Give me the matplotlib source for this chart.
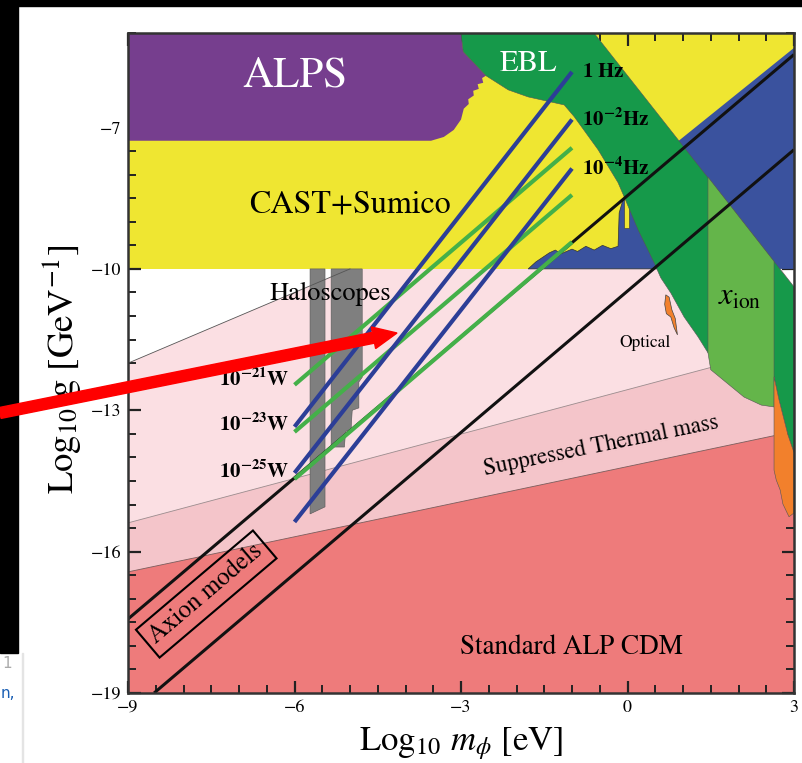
import matplotlib
matplotlib.use("Agg")
import matplotlib.pyplot as plt
from matplotlib.patches import Polygon, Rectangle, FancyArrow
from matplotlib.ticker import FixedLocator, MultipleLocator

plt.rcParams['font.family'] = ['STIXGeneral', 'DejaVu Sans']
plt.rcParams['mathtext.fontset'] = 'stix'

# ---------------- data (log10 m [eV], log10 g [GeV^-1]) ----------------
x_lim = (-9, 3)
y_lim = (-19, -5)
x_major = [-9, -6, -3, 0, 3]
y_major = [-19, -16, -13, -10, -7]

cast_x = [-9, 3, 3, -9]
cast_y = [-10, -10, -5, -5]

alps_x = [-9, -3.00, -2.96, -2.55, -2.62, -2.60, -2.70, -2.68, -2.78, -2.77, -2.87, -2.86, -2.95, -3.00,
          -3.13, -3.31, -3.54, -9]
alps_y = [-5, -5.00, -5.39, -5.90, -5.95, -6.05, -6.08, -6.18, -6.22, -6.32, -6.40, -6.50, -6.60, -6.83,
          -7.05, -7.20, -7.28, -7.28]

blueA_x = [-1.79, -1.65, -1.41, -1.30, -1.20, -1.00, -0.90, -0.75, -0.60, -0.45, -0.30, -0.17, -0.15, -0.08, 0.30, 0.60]
blueA_y = [-10.0, -9.85, -9.66, -9.60, -9.68, -9.58, -9.63, -9.52, -9.60, -9.50, -9.57, -9.52, -8.81, -8.53, -8.50, -10.0]

blueB_x = [0.85, 3.0, 3.0, 2.6]
blueB_y = [-7.35, -5.31, -10.0, -10.0]

spike_x = [-0.07, 0.03, 0.03, -0.07]
spike_y = [-8.45, -8.45, -9.13, -9.13]

ebl_x = [-3.00, -2.96, -2.55, -2.15, -1.79, -1.14, -0.96, -0.53, -0.17, -0.06, 0.19, 0.48, 0.60, 0.78,
         1.02, 1.27, 1.45, 2.64, 2.73, 2.89, 3.0, 3.0, -0.60]
ebl_y = [-5.0, -5.39, -5.90, -6.20, -6.35, -6.52, -6.77, -7.47, -8.17, -8.47, -9.17, -9.87, -10.19, -10.51,
         -11.02, -11.44, -11.78, -12.29, -12.78, -13.52, -13.90, -10.38, -5.0]

xion_x = [1.45, 2.64, 2.64, 2.41, 2.10, 1.50, 1.45]
xion_y = [-8.05, -9.84, -12.93, -12.89, -12.72, -12.14, -11.78]

orange_x = [2.64, 2.73, 2.89, 3.0, 3.0, 2.91, 2.80, 2.75, 2.68, 2.64]
orange_y = [-12.29, -12.78, -13.52, -13.90, -15.18, -15.26, -14.99, -14.69, -14.48, -14.27]

optical_x = [0.69, 0.75, 0.80, 0.86, 0.90, 0.84, 0.78, 0.70, 0.67]
optical_y = [-10.55, -10.60, -10.87, -11.05, -11.40, -11.25, -11.02, -10.95, -10.75]

halo_top_x = [-9, -5, 2.77, 3.0]
halo_top_y = [-12, -10, -10, -10.38]
thermal_x = [-9, 3]
thermal_y = [-15.39, -11.62]
cdm_x = [-9, 3]
cdm_y = [-16.43, -13.45]

bar1_x = [-5.72, -5.45, -5.45, -5.72]
bar1_y = [-10, -10, -15.05, -15.20]
bar2_x = [-5.34, -4.78, -4.78, -4.84, -4.84, -4.96, -4.98, -5.08, -5.10, -5.34]
bar2_y = [-10, -10, -12.30, -12.40, -12.95, -13.00, -13.40, -13.45, -13.78, -13.78]

axion_up_x = [-9, 3]
axion_up_y = [-17.43, -5.45]
axion_lo_x = [-8.53, 3]
axion_lo_y = [-19, -7.47]

sens_x = [-6, -1]
w_labels = [r'$\mathbf{10^{-21}W}$', r'$\mathbf{10^{-23}W}$', r'$\mathbf{10^{-25}W}$']
w_start = [-12.46, -13.46, -14.46]
w_end = [-7.43, -8.43, -9.43]
w_label_y = [-12.35, -13.3, -14.3]
hz_labels = [r'$\mathbf{1\ Hz}$', r'$\mathbf{10^{-2}Hz}$', r'$\mathbf{10^{-4}Hz}$']
hz_start = [-13.35, -14.33, -15.37]
hz_end = [-5.82, -6.83, -7.87]

# ---------------- colours ----------------
c_yellow = '#efe631'
c_purple = '#763e8e'
c_blue = '#3a529e'
c_ebl = '#16994a'
c_xion = '#64b54a'
c_orange = '#f2802c'
c_pink = '#fbdfe3'
c_thermal = '#f4c5ca'
c_cdm = '#ee7b7b'
c_gray = '#7f7f7f'
c_lblue = '#2c3e97'
c_lgreen = '#44b049'

fig = plt.figure(figsize=(8.02, 7.63), dpi=100)
ax = fig.add_axes([128 / 802, 70 / 763, 666 / 802, 659.7 / 763])
ax.set_xlim(*x_lim)
ax.set_ylim(*y_lim)


def poly(xs, ys, fc, z, ec='none', lw=0.0):
    ax.add_patch(Polygon(list(zip(xs, ys)), closed=True, facecolor=fc,
                         edgecolor=ec, lw=lw, zorder=z))


# light pink (haloscope area), thermal and CDM bands
pink_x = halo_top_x + [thermal_x[1], thermal_x[0]]
pink_y = halo_top_y + [thermal_y[1], thermal_y[0]]
poly(pink_x, pink_y, c_pink, 1)
poly(thermal_x + cdm_x[::-1], thermal_y + cdm_y[::-1], c_thermal, 1.1)
poly(cdm_x + [3, -9], cdm_y + [-19, -19], c_cdm, 1.2)
ax.plot(thermal_x, thermal_y, color='#9a8a8c', lw=0.6, zorder=1.3)
ax.plot(cdm_x, cdm_y, color='#7a5a5a', lw=0.6, zorder=1.3)

poly(cast_x, cast_y, c_yellow, 1)
poly(alps_x, alps_y, c_purple, 2)
poly(blueA_x, blueA_y, c_blue, 2, ec='#333333', lw=0.5)
poly(blueB_x, blueB_y, c_blue, 2)
poly(spike_x, spike_y, c_yellow, 2.1, ec='#444444', lw=0.5)
poly(ebl_x, ebl_y, c_ebl, 3, ec='#555555', lw=0.4)
poly(xion_x, xion_y, c_xion, 3.2, ec='#555555', lw=0.4)
poly(orange_x, orange_y, c_orange, 3.3, ec='#555555', lw=0.4)
poly(optical_x, optical_y, c_orange, 3.3, ec='#444444', lw=0.5)
poly(bar1_x, bar1_y, c_gray, 4, ec='#555555', lw=0.4)
poly(bar2_x, bar2_y, c_gray, 4, ec='#555555', lw=0.4)
ax.plot(halo_top_x[:2], halo_top_y[:2], color='#555555', lw=0.6, zorder=4.5)

# axion band lines
ax.plot(axion_up_x, axion_up_y, color='#111111', lw=2.2, zorder=5, solid_capstyle='butt')
ax.plot(axion_lo_x, axion_lo_y, color='#111111', lw=2.2, zorder=5, solid_capstyle='butt')

# sensitivity lines
for s, e, lab, ly in zip(w_start, w_end, w_labels, w_label_y):
    ax.plot(sens_x, [s, e], color=c_lgreen, lw=3.0, zorder=6, solid_capstyle='butt')
    ax.text(-6.1, ly, lab, ha='right', va='center', fontsize=15, zorder=7)
for s, e, lab in zip(hz_start, hz_end, hz_labels):
    ax.plot(sens_x, [s, e], color=c_lblue, lw=3.0, zorder=6.5, solid_capstyle='butt')
    ax.text(-0.82, e, lab, ha='left', va='center', fontsize=15, zorder=7)

# region labels
ax.text(-6.0, -5.92, 'ALPS', color='white', fontsize=31, ha='center', va='center', zorder=8)
ax.text(-5.0, -8.64, 'CAST+Sumico', color='black', fontsize=23, ha='center', va='center', zorder=8)
ax.text(-1.78, -5.65, 'EBL', color='white', fontsize=22, ha='center', va='center', zorder=8)
ax.text(-5.35, -10.66, 'Haloscopes', color='black', fontsize=19, ha='center', va='baseline', zorder=8)
ax.text(0.32, -11.65, 'Optical', color='black', fontsize=12.5, ha='center', va='baseline', zorder=8)
ax.text(2.03, -10.76, r'$x_{\rm ion}$', color='black', fontsize=22, ha='center', va='baseline', zorder=8)
ax.text(-0.48, -13.75, 'Suppressed Thermal mass', fontsize=16.5, rotation=11.4,
        rotation_mode='anchor', ha='center', va='center', zorder=8)
ax.text(-1.0, -18.17, 'Standard ALP CDM', fontsize=19.5, ha='center', va='baseline', zorder=8)
ax.text(-7.59, -16.90, 'Axion models', fontsize=18, rotation=40.3, rotation_mode='anchor',
        ha='center', va='center', zorder=8,
        bbox=dict(boxstyle='square,pad=0.25', fc='none', ec='black', lw=1.5))

# axes styling
ax.xaxis.set_major_locator(FixedLocator(x_major))
ax.yaxis.set_major_locator(FixedLocator(y_major))
ax.xaxis.set_minor_locator(MultipleLocator(0.5))
ax.yaxis.set_minor_locator(MultipleLocator(0.5))
ax.tick_params(which='both', direction='in', top=True, right=True, color='#222222',
               labelsize=13, pad=5, zorder=9)
ax.tick_params(which='major', length=9, width=1.6)
ax.tick_params(which='minor', length=6, width=1.4)
for sp in ax.spines.values():
    sp.set_linewidth(1.8)
    sp.set_color('#333333')
    sp.set_zorder(10)

ax.set_xlabel(r'Log$_{10}$ $m_\phi$ [eV]', fontsize=25)
ax.set_ylabel(r'Log$_{10}$ g [GeV$^{-1}$]', fontsize=26.5)
ax.xaxis.set_label_coords(0.5, -0.048)
ax.yaxis.set_label_coords(-0.068, 0.49)

# screenshot frame and annotation arrow
fig.add_artist(Rectangle((0, 7.57), 8.02, 0.06, transform=fig.dpi_scale_trans,
                         color='black', zorder=20))
fig.add_artist(Rectangle((0, 1.10), 0.177, 6.53, transform=fig.dpi_scale_trans,
                         color='black', zorder=20))
fig.add_artist(Rectangle((0.222, 0.0), 0.01, 1.10, transform=fig.dpi_scale_trans,
                         color='#e4e4e4', zorder=20))
fig.text(0.02, 0.99, '1', transform=fig.dpi_scale_trans, ha='left', va='center',
         fontsize=11, color='#aaaaaa', family='DejaVu Sans')
fig.text(0.01, 0.70, 'n,', transform=fig.dpi_scale_trans, ha='left', va='center',
         fontsize=11, color='#1a5fb4', family='DejaVu Sans')
fig.add_artist(FancyArrow(0.0, 3.50, 3.97, 0.80, width=0.11, head_width=0.22, head_length=0.24,
                          length_includes_head=True, transform=fig.dpi_scale_trans,
                          color='#ff0000', zorder=30))

fig.savefig('out.png', dpi=100)
